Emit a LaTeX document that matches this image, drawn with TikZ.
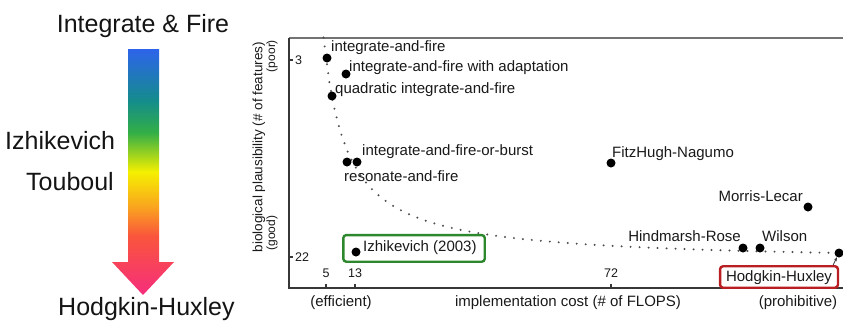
\documentclass[tikz,border=0pt]{standalone}
\usepackage{fontspec}
\setmainfont{Liberation Sans}
\usetikzlibrary{fit,arrows.meta}

\definecolor{ifblue}{RGB}{45,100,235}
\definecolor{izteal}{RGB}{20,140,140}
\definecolor{izgreen}{RGB}{50,175,70}
\definecolor{tyellow}{RGB}{245,240,0}
\definecolor{torange}{RGB}{250,165,30}
\definecolor{hhred}{RGB}{250,85,60}
\definecolor{hhpink}{RGB}{245,45,125}
\definecolor{axisgray}{RGB}{55,55,55}
\definecolor{framegray}{RGB}{115,115,115}
\definecolor{boxgreen}{RGB}{45,135,45}
\definecolor{boxred}{RGB}{185,30,35}

% colour ramp of the big arrow (bottom -> top)
\pgfdeclareverticalshading{rainbow}{100bp}{color(0bp)=(hhpink); color(25bp)=(hhpink);
  color(37bp)=(hhred); color(43bp)=(torange); color(50bp)=(tyellow);
  color(58bp)=(izgreen); color(64.5bp)=(izteal); color(75bp)=(ifblue); color(100bp)=(ifblue)}

\begin{document}
\begin{tikzpicture}[x=1pt, y=-1pt,
    bigtext/.style = {font=\fontsize{25}{30}\selectfont, text=black!92, inner sep=0pt},
    lab/.style = {font=\fontsize{15}{18}\selectfont, text=black!90, inner sep=0pt,
      text height=11.5pt, text depth=2pt},
    axlab/.style = {font=\fontsize{15}{18}\selectfont, text=black!90, inner sep=0pt},
    ylab/.style = {font=\fontsize{13.5}{16}\selectfont, text=black!90, inner sep=0pt, rotate=90},
    endlab/.style = {font=\fontsize{12}{14}\selectfont, text=black!90, inner sep=0pt, rotate=90},
    ticklab/.style = {font=\fontsize{12.5}{14}\selectfont, text=black!90, inner sep=0pt},
    pt/.style = {circle, fill=black, inner sep=0pt, minimum size=9pt},
    axis/.style = {draw=axisgray, line width=2pt},
    trend/.style = {draw=black!70, line width=2.2pt, line cap=round, dash pattern=on 0pt off 9pt},
    modelbox/.style = {draw, rounded corners=3pt, line width=2.4pt}]
  \useasboundingbox (0,0) rectangle (843,322);

  % left: ranking arrow
  \node[bigtext, anchor=base] (top) at (143,32) {Integrate \& Fire};
  \node[bigtext, anchor=base west] (izh) at (5,149) {Izhikevich};
  \node[bigtext, anchor=base west] (tou) at (26,190) {Touboul};
  \node[bigtext, anchor=base west] (bottom) at (58,315) {Hodgkin-Huxley};
  \shade[shading=rainbow] (128,49) -- (159,49) -- (159,262) -- (174,262)
    -- (143,295) -- (112,262) -- (128,262) -- cycle;

  % right: cost vs plausibility
  \draw[draw=framegray, line width=2.5pt] (289,38) -- (843,38);
  \draw[axis] (289,38) -- (289,288) -- (843,288);
  \foreach \x/\n in {326/5, 355/13, 611/72} {
    \draw[axis] (\x,288) -- (\x,284);
    \node[ticklab] (xt\n) at (\x,273) {\n};
  }
  \foreach \y/\n in {60/3, 257/22} {
    \draw[axis] (289,\y) -- (293,\y);
    \node[ticklab, anchor=west] (yt\n) at (295,\y) {\n};
  }
  \node[axlab] (eff) at (341,303) {(efficient)};
  \node[axlab] (cost) at (568,303) {implementation cost (\# of FLOPS)};
  \node[axlab] (proh) at (798,303) {(prohibitive)};
  \node[ylab] (plaus) at (259,147) {biological plausibility (\# of features)};
  \node[endlab] (poor) at (272,56) {(poor)};
  \node[endlab] (good) at (272,233) {(good)};

  \draw[trend] plot[domain=323.5:842, samples=90] (\x, {262.8 - 5294/(\x-300)});

  \node[pt] (iaf) at (327,58) {};
  \node[pt] (ada) at (346,74) {};
  \node[pt] (quad) at (332,96) {};
  \node[pt] (res) at (347,162) {};
  \node[pt] (burst) at (357,162) {};
  \node[pt] (izdot) at (356,252) {};
  \node[pt] (fhn) at (611,163) {};
  \node[pt] (ml) at (808,207) {};
  \node[pt] (hr) at (743,248) {};
  \node[pt] (wil) at (760,248) {};
  \node[pt] (hhdot) at (839,253) {};

  \node[lab, anchor=west] (iaflab) at (331,47) {integrate-and-fire};
  \node[lab, anchor=west] (adalab) at (349,67) {integrate-and-fire with adaptation};
  \node[lab, anchor=west] (quadlab) at (335,89) {quadratic integrate-and-fire};
  \node[lab, anchor=west] (burstlab) at (362,151) {integrate-and-fire-or-burst};
  \node[lab, anchor=west] (reslab) at (344,177) {resonate-and-fire};
  \node[lab, anchor=west] (izlab) at (363,247) {Izhikevich (2003)};
  \node[lab, anchor=west] (fhnlab) at (612,153) {FitzHugh-Nagumo};
  \node[lab, anchor=east] (mllab) at (803,197) {Morris-Lecar};
  \node[lab, anchor=east] (hrlab) at (741,237) {Hindmarsh-Rose};
  \node[lab, anchor=west] (willab) at (762,237) {Wilson};

  \node[modelbox, draw=boxgreen, inner xsep=8pt, inner ysep=5pt, fit=(izdot)(izlab)] (izbox) {};
  \node[lab, modelbox, draw=boxred, inner xsep=6pt, inner ysep=4pt] (hhbox) at (779,277) {Hodgkin-Huxley};
  \draw[-{Stealth[length=4pt]}, black!80, line width=0.8pt] ([xshift=-6pt]hhbox.north east) -- (hhdot);
\end{tikzpicture}
\end{document}
